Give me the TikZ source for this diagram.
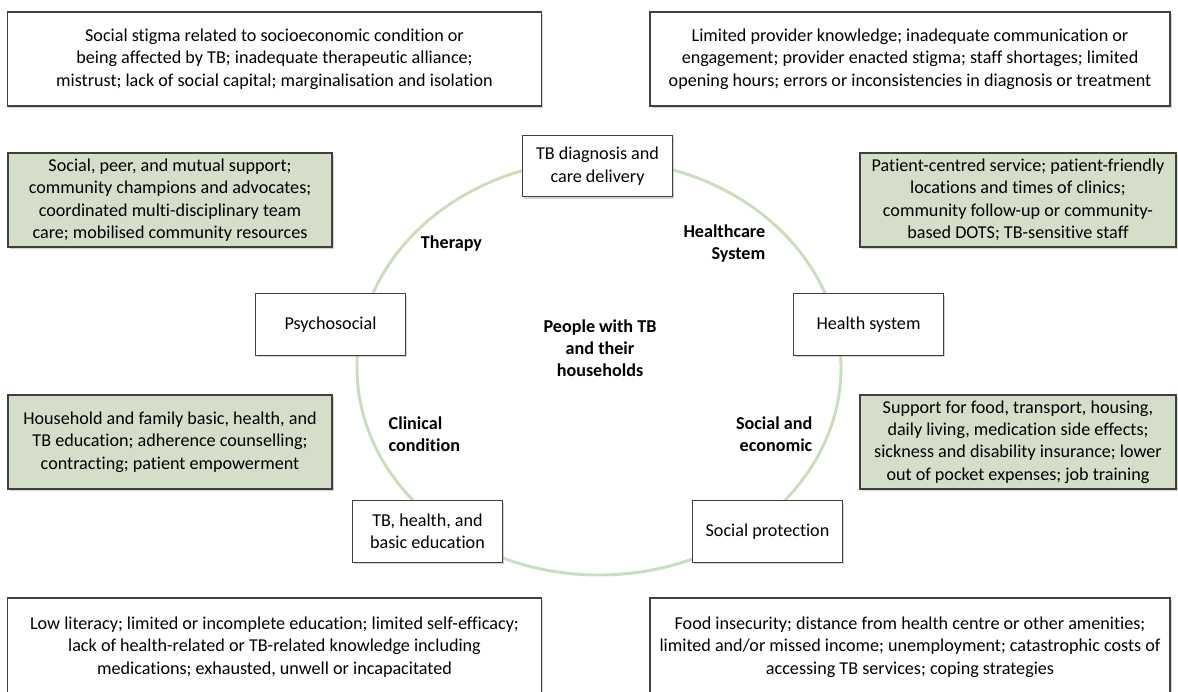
\documentclass[tikz,border=0pt]{standalone}
\usepackage{fontspec}
\setmainfont{Carlito}[Ligatures=NoCommon]
\usetikzlibrary{shadows}
\definecolor{sage}{RGB}{213,222,200}
\definecolor{ringgreen}{RGB}{202,222,188}
\definecolor{edgegray}{RGB}{64,64,64}
\begin{document}
\begin{tikzpicture}[x=0.75pt,y=-0.75pt,
	box/.style={draw=edgegray,line width=0.8pt,fill=white,align=center,inner sep=2pt,
		font=\fontsize{13.6}{16.8}\selectfont,
		drop shadow={shadow xshift=1.2pt,shadow yshift=-1.5pt,opacity=0.35}},
	greenbox/.style={box,fill=sage},
	hub/.style={box,minimum width=112pt,minimum height=46pt},
	tag/.style={font=\fontsize{13.6}{16.5}\selectfont\bfseries}]
	\useasboundingbox (0,0) rectangle (1178,692);
	\draw[ringgreen,line width=2.2pt] (599,367.5) ellipse (242 and 207.5);

	\node[box,minimum width=400pt,minimum height=70.5pt] (stigma) at (274.5,59)
		{Social stigma related to socioeconomic condition or\\being affected by TB; inadequate therapeutic alliance;\\mistrust; lack of social capital; marginalisation and isolation};
	\node[box,minimum width=390pt,minimum height=70.5pt] (provider) at (910,59)
		{Limited provider knowledge; inadequate communication or\\engagement; provider enacted stigma; staff shortages; limited\\opening hours; errors or inconsistencies in diagnosis or treatment};

	\node[greenbox,minimum width=243pt,minimum height=70.5pt] (peer) at (170,200)
		{Social, peer, and mutual support;\\community champions and advocates;\\coordinated multi-disciplinary team\\care; mobilised community resources};
	\node[greenbox,minimum width=237pt,minimum height=70.5pt] (centred) at (1018,200)
		{Patient-centred service; patient-friendly\\locations and times of clinics;\\community follow-up or community-\\based DOTS; TB-sensitive staff};
	\node[greenbox,minimum width=243pt,minimum height=70.5pt] (family) at (170,442)
		{Household and family basic, health, and\\TB education; adherence counselling;\\contracting; patient empowerment};
	\node[greenbox,minimum width=237pt,minimum height=70.5pt] (support) at (1018,442)
		{Support for food, transport, housing,\\daily living, medication side effects;\\sickness and disability insurance; lower\\out of pocket expenses; job training};

	\node[box,minimum width=400pt,minimum height=73.5pt] (literacy) at (274.5,647)
		{Low literacy; limited or incomplete education; limited self-efficacy;\\lack of health-related or TB-related knowledge including\\medications; exhausted, unwell or incapacitated};
	\node[box,minimum width=390pt,minimum height=73.5pt] (income) at (910,647)
		{Food insecurity; distance from health centre or other amenities;\\limited and/or missed income; unemployment; catastrophic costs of\\accessing TB services; coping strategies};

	\node[hub] (diag) at (597.5,166) {TB diagnosis and\\care delivery};
	\node[hub] (psycho) at (330.5,324.5) {Psychosocial};
	\node[hub] (system) at (868.5,324.5) {Health system};
	\node[hub] (educ) at (427.5,531.5) {TB, health, and\\basic education};
	\node[hub] (protect) at (767.5,531.5) {Social protection};

	\node[tag,align=center] (people) at (600,348.5) {People with TB\\and their\\households};
	\node[tag] (therapy) at (451.5,244) {Therapy};
	\node[tag,align=right,anchor=east] (care) at (770,244) {Healthcare\\System};
	\node[tag,align=left,anchor=west] (clinical) at (384,434) {Clinical\\condition};
	\node[tag,align=right,anchor=east] (economic) at (817,434) {Social and\\economic};
\end{tikzpicture}
\end{document}
